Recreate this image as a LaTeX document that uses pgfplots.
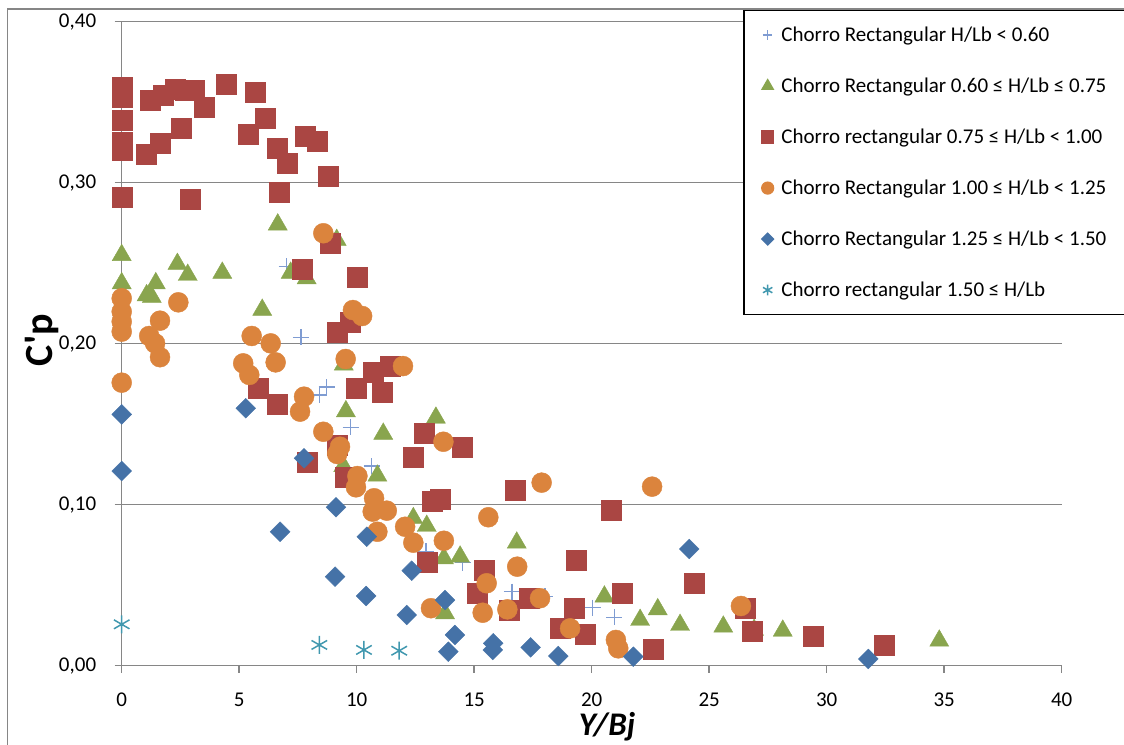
\documentclass[border=0pt]{standalone}
\usepackage{fontspec}
\setmainfont{Carlito}
\usepackage{pgfplots}
\pgfplotsset{compat=1.18}

\definecolor{gridgray}{HTML}{868686}
\definecolor{cPlus}{HTML}{7F9CD2}
\definecolor{cTri}{HTML}{89A54E}
\definecolor{cSq}{HTML}{AA4643}
\definecolor{cCirc}{HTML}{DB843D}
\definecolor{cDia}{HTML}{4572A7}
\definecolor{cStar}{HTML}{4198AF}

\begin{document}
\begin{tikzpicture}[x=1pt,y=1pt]
\path[use as bounding box] (0,0) rectangle (1124,744);
% outer chart frame
\draw[gridgray, line width=1.5pt] (7.5,-5) -- (7.5,735) -- (1130,735);
\begin{axis}[
  at={(121.7pt,78.3pt)}, anchor=south west,
  scale only axis, width=940pt, height=644pt,
  xmin=0, xmax=40, ymin=0, ymax=0.4,
  clip=false,
  axis x line*=bottom, axis y line*=left,
  axis line style={gridgray, line width=1.5pt, -},
  xtick={0,5,...,40}, ytick={0,0.1,0.2,0.3,0.4},
  scaled y ticks=false,
  tick align=outside, major tick length=7pt,
  tick style={gridgray, line width=1.5pt},
  ymajorgrids, major grid style={gridgray, line width=1.5pt},
  ticklabel style={font=\fontsize{21}{25}\selectfont, text=black},
  /pgf/number format/assume math mode=true,
  xticklabel style={yshift=-17pt},
  yticklabel style={xshift=-15pt, /pgf/number format/.cd, fixed, fixed zerofill, precision=2, use comma},
  xlabel={\textbf{\textit{Y/Bj}}},
  xlabel style={at={(axis description cs:0.5163,-0.0955)}, anchor=center, inner sep=0pt, font=\fontsize{33}{36}\selectfont},
  ylabel={\textbf{C\textquotesingle p}},
  ylabel style={at={(axis description cs:-0.0848,0.5057)}, anchor=center, inner sep=0pt, font=\fontsize{40}{44}\selectfont},
  legend cell align=left,
  legend style={at={(axis description cs:0.6613,1.0182)}, anchor=north west,
    draw=black, line width=1.2pt, fill=white,
    inner xsep=16pt, inner ysep=14pt, row sep=30pt, column sep=6pt,
    font=\fontsize{21}{25}\selectfont,
    nodes={inner sep=0pt, text height=17pt, text depth=4pt}},
  legend image code/.code={
    \path (-7pt,0pt) (7pt,0pt);
    \draw[#1, every mark/.append style={scale=0.6}] plot coordinates {(0pt,0pt)};
  },
]

% H/Lb < 0.60
\addplot[only marks, mark=+, mark size=8pt, cPlus, line width=1.5pt] coordinates {
(7.02,0.248) (7.62,0.204) (8.41,0.168) (8.72,0.173) (9.74,0.148) (10.64,0.124)
(12.95,0.071) (14.51,0.064) (16.60,0.046) (18.01,0.043) (20.04,0.036) (20.96,0.030)
};
\addlegendentry{Chorro Rectangular H/Lb < 0.60}

% 0.60 <= H/Lb <= 0.75
\addplot[only marks, mark=triangle*, mark size=11pt, draw=cTri, fill=cTri] coordinates {
(0,0.255) (0,0.2375) (1.06,0.230) (1.28,0.229) (1.45,0.2375) (2.37,0.2495)
(2.81,0.2427) (4.28,0.244) (5.98,0.221) (6.64,0.274) (7.19,0.244) (7.87,0.2406)
(9.15,0.2644) (9.45,0.187) (9.54,0.158) (9.43,0.124) (10.88,0.118) (11.13,0.144)
(12.41,0.0916) (12.98,0.0868) (13.37,0.154) (13.71,0.0667) (13.76,0.0325) (14.40,0.0677)
(16.81,0.0764) (20.54,0.0429) (22.06,0.0284) (22.81,0.035) (23.76,0.0253) (25.60,0.0242)
(26.91,0.0222) (28.13,0.0217) (34.79,0.0155)
};
\addlegendentry{Chorro Rectangular 0.60 ≤ H/Lb ≤ 0.75\hspace*{20pt}}

% 0.75 <= H/Lb < 1.00
\addplot[only marks, mark=square*, mark size=10pt, draw=cSq, fill=cSq] coordinates {
(0,0.3596) (0,0.3534) (0,0.339) (0,0.325) (0,0.320) (0,0.2913)
(1.06,0.318) (1.23,0.351) (1.63,0.3245) (1.77,0.3545) (2.27,0.358) (2.55,0.334)
(2.69,0.3576) (3.08,0.3576) (2.91,0.290) (3.51,0.347) (4.44,0.361) (5.39,0.330)
(5.67,0.356) (6.11,0.340) (6.60,0.3214) (6.71,0.2938) (7.06,0.3124) (7.79,0.3286)
(8.30,0.3255) (8.79,0.304) (8.89,0.2627) (7.70,0.2462) (10.00,0.2416) (9.16,0.2073)
(9.71,0.2135) (9.97,0.1725) (10.69,0.182) (11.10,0.170) (11.42,0.186) (5.80,0.1723)
(6.60,0.1625) (7.90,0.1267) (9.17,0.137) (9.50,0.117) (12.41,0.1298) (12.86,0.1443)
(14.51,0.1357) (13.23,0.1023) (13.54,0.1034) (13.00,0.064) (15.42,0.0594) (15.13,0.0453)
(16.49,0.0342) (16.74,0.109) (17.32,0.0419) (18.65,0.0232) (19.36,0.0657) (19.25,0.036)
(19.71,0.0197) (20.85,0.0963) (21.30,0.0453) (22.62,0.0102) (24.37,0.0512) (26.54,0.0357)
(26.82,0.0216) (29.43,0.0184) (32.44,0.0129)
};
\addlegendentry{Chorro rectangular 0.75 ≤ H/Lb < 1.00}

% 1.00 <= H/Lb < 1.25
\addplot[only marks, mark=*, mark size=10pt, draw=cCirc, fill=cCirc] coordinates {
(0,0.2282) (0,0.2199) (0,0.2137) (0,0.2075) (0,0.1758) (2.41,0.2257)
(1.63,0.2143) (1.17,0.2048) (1.42,0.2002) (1.63,0.1916) (5.53,0.2048) (6.34,0.2002)
(6.55,0.1884) (5.17,0.1878) (5.43,0.1806) (7.76,0.1671) (7.59,0.1578) (8.58,0.2686)
(9.84,0.2209) (10.23,0.2172) (9.53,0.1905) (11.97,0.1861) (8.58,0.1453) (9.29,0.136)
(9.17,0.1315) (10.03,0.1178) (9.97,0.1108) (13.69,0.1391) (10.74,0.104) (10.68,0.0957)
(11.28,0.0963) (10.88,0.0832) (12.06,0.0863) (12.41,0.0764) (13.71,0.0776) (17.87,0.1137)
(15.60,0.0922) (16.83,0.0615) (15.53,0.0512) (15.36,0.0329) (16.41,0.035) (17.80,0.0419)
(13.16,0.0357) (19.08,0.0232) (22.57,0.1112) (21.03,0.016) (21.13,0.0108) (26.35,0.0371)
};
\addlegendentry{Chorro Rectangular 1.00 ≤ H/Lb < 1.25}

% 1.25 <= H/Lb < 1.50
\addplot[only marks, mark=square*, mark size=7pt, mark options={rotate=45}, draw=cDia, fill=cDia] coordinates {
(0,0.1561) (0,0.1209) (5.28,0.1599) (6.74,0.0832) (7.76,0.1288) (9.12,0.0984)
(9.08,0.0553) (10.43,0.0801) (10.40,0.0433) (12.34,0.059) (12.13,0.0315) (13.76,0.0408)
(14.18,0.0191) (13.90,0.0087) (15.81,0.0139) (15.79,0.0098) (17.40,0.0114) (18.58,0.006)
(21.77,0.0056) (24.15,0.0725) (31.77,0.0042)
};
\addlegendentry{Chorro Rectangular 1.25 ≤ H/Lb < 1.50}

% 1.50 <= H/Lb
\addplot[only marks, mark=asterisk, mark size=9pt, cStar, line width=1.5pt] coordinates {
(0,0.0257) (8.41,0.0129) (10.31,0.0098) (11.81,0.0093)
};
\addlegendentry{Chorro rectangular 1.50 ≤ H/Lb}

\end{axis}
\end{tikzpicture}
\end{document}
